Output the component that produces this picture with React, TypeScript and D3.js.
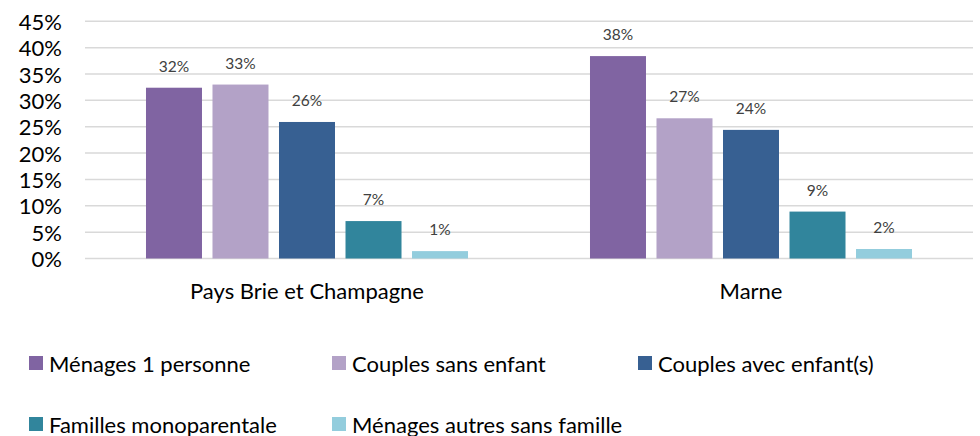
import React from "react";
import * as d3 from "d3";

const categories = ["Pays Brie et Champagne", "Marne"];
const seriesNames = [
  "Ménages 1 personne",
  "Couples sans enfant",
  "Couples avec enfant(s)",
  "Familles monoparentale",
  "Ménages autres sans famille",
];
const seriesColors = ["#8064A2", "#B3A2C7", "#376092", "#31859C", "#93CDDD"];
// values per series, [Pays Brie et Champagne, Marne]
const menages1 = [32.4, 38.4];
const couplesSans = [33.0, 26.6];
const couplesAvec = [25.9, 24.4];
const familles = [7.1, 8.9];
const autres = [1.4, 1.8];
const seriesValues = [menages1, couplesSans, couplesAvec, familles, autres];
const yTicks = [0, 5, 10, 15, 20, 25, 30, 35, 40, 45];

const W = 980;
const H = 436;
const FONT = "Lato, 'Open Sans', sans-serif";

export default function App() {
  const left = 85;
  const right = 973;
  const top = 21.3;
  const bottom = 258.5;

  const x0 = d3.scaleBand<string>().domain(categories).range([left, right]).paddingInner(0).paddingOuter(0);
  const x1 = d3
    .scaleBand<number>()
    .domain(d3.range(seriesNames.length))
    .range([0, x0.bandwidth()])
    .paddingInner(0.158)
    .paddingOuter(0.917);
  const y = d3.scaleLinear().domain([0, 45]).range([bottom, top]);

  const legendX = [29, 332, 638];
  const legendRowY = [363, 424];

  return (
    <svg width={W} height={H} style={{ position: "absolute", left: 0, top: 0, background: "#fff" }}>
      <rect width={W} height={H} fill="#fff" />
      {yTicks.map((t) => (
        <g key={t}>
          <line x1={left} x2={right} y1={y(t)} y2={y(t)} stroke="#d9d9d9" strokeWidth={1.5} />
          <text
            x={62}
            y={y(t)}
            textAnchor="end"
            dominantBaseline="central"
            fontFamily={FONT}
            fontSize={22}
            fill="#000"
          >
            {t}%
          </text>
        </g>
      ))}
      {categories.map((c, ci) => (
        <g key={c} transform={`translate(${x0(c)},0)`}>
          {seriesValues.map((vals, si) => {
            const v = vals[ci];
            const bx = x1(si)!;
            const bw = x1.bandwidth();
            return (
              <g key={si}>
                <rect x={bx} y={y(v)} width={bw} height={y(0) - y(v)} fill={seriesColors[si]} />
                <text
                  x={bx + bw / 2}
                  y={y(v) - 22}
                  textAnchor="middle"
                  dominantBaseline="central"
                  fontFamily={FONT}
                  fontSize={15.5}
                  fill="#404040"
                >
                  {Math.round(v)}%
                </text>
              </g>
            );
          })}
          <text
            x={x0.bandwidth() / 2}
            y={290}
            textAnchor="middle"
            dominantBaseline="central"
            fontFamily={FONT}
            fontSize={22}
            fill="#000"
          >
            {c}
          </text>
        </g>
      ))}
      {seriesNames.map((name, i) => {
        const col = i % 3;
        const row = Math.floor(i / 3);
        const lx = legendX[col];
        const ly = legendRowY[row];
        return (
          <g key={name}>
            <rect x={lx} y={ly - 7} width={14} height={14} fill={seriesColors[i]} />
            <text
              x={lx + 20}
              y={ly}
              dominantBaseline="central"
              fontFamily={FONT}
              fontSize={22}
              fill="#000"
            >
              {name}
            </text>
          </g>
        );
      })}
    </svg>
  );
}
